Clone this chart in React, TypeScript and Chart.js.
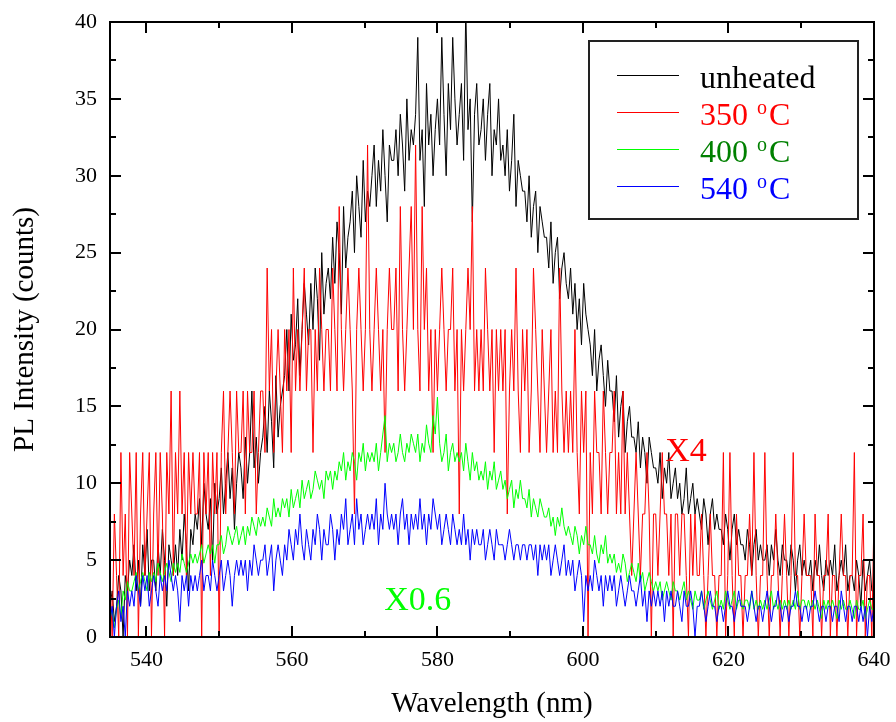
import React, { useEffect, useRef } from 'react';
import { Chart, registerables } from 'chart.js';

Chart.register(...registerables);

const FONT = "'Liberation Serif', 'Times New Roman', Times, serif";

// Sampling grid of the spectra (nm)
const WL_START = 535;
const WL_STEP = 0.3;

const xTicks = [540, 560, 580, 600, 620, 640];
const xMinorTicks = [550, 570, 590, 610, 630];
const yTicks = [0, 5, 10, 15, 20, 25, 30, 35, 40];
const yMinorTicks = [2.5, 7.5, 12.5, 17.5, 22.5, 27.5, 32.5, 37.5];

const seriesLabels = ['unheated', '350 °C', '400 °C', '540 °C'];
const lineColors = ['#000000', '#ff0000', '#00ff00', '#0000ff'];
const legendTextColors = ['#000000', '#ff0000', '#008000', '#0000ff'];

// multiplication factors shown on the plot
const scale350 = 4;
const scale400 = 0.6;

// unheated (counts)
const unheated = [
  2, 3, 1, 2, 4, 3, 0, 4, 3, 5,
  4, 6, 3, 5, 2, 6, 4, 7, 3, 5,
  5, 3, 6, 4, 7, 5, 2, 6, 5, 4,
  6, 4, 7, 5, 8, 6, 3, 7, 6, 8,
  7, 9, 6, 10, 8, 7, 9, 5, 10, 8,
  9, 11, 8, 10, 12, 9, 11, 7, 10, 12,
  11, 9, 13, 10, 12, 16, 11, 13, 10, 12,
  13, 15, 12, 16, 14, 11, 17, 13, 15, 16,
  17, 20, 16, 21, 18, 19, 22, 17, 20, 23,
  21, 19, 23, 20, 24, 22, 18, 25, 21, 23,
  24, 22, 26, 23, 27, 25, 21, 28, 24, 26,
  27, 29, 25, 30, 28, 26, 31, 27, 29, 28,
  30, 32, 28, 31, 29, 33, 30, 27, 32, 31,
  31, 33, 30, 34, 32, 29, 35, 31, 33, 32,
  34, 39, 31, 33, 28, 36, 32, 34, 30, 33,
  35, 32, 39, 34, 30, 36, 33, 39, 35, 32,
  34, 36, 31, 41, 33, 35, 27, 34, 36, 32,
  33, 35, 31, 34, 36, 30, 33, 32, 35, 31,
  32, 30, 33, 29, 31, 34, 28, 31, 30, 29,
  29, 27, 30, 26, 28, 29, 25, 28, 27, 26,
  26, 24, 27, 23, 25, 26, 22, 24, 25, 23,
  22, 24, 21, 23, 20, 22, 19, 23, 21, 20,
  19, 17, 20, 16, 18, 19, 17, 15, 18, 16,
  16, 14, 17, 13, 15, 16, 12, 14, 15, 13,
  13, 12, 14, 11, 13, 12, 10, 13, 12, 11,
  11, 10, 12, 9, 11, 10, 12, 9, 10, 11,
  9, 10, 8, 9, 11, 8, 9, 10, 8, 9,
  8, 7, 9, 8, 6, 8, 9, 7, 8, 7,
  7, 6, 8, 7, 5, 7, 8, 6, 7, 6,
  6, 5, 7, 6, 4, 6, 7, 5, 6, 5,
  5, 6, 4, 6, 5, 7, 5, 4, 6, 5,
  5, 4, 6, 5, 3, 5, 6, 4, 5, 4,
  4, 5, 3, 5, 4, 6, 4, 3, 5, 4,
  5, 4, 6, 3, 4, 5, 4, 6, 3, 4,
  4, 3, 5, 4, 2, 5, 3, 4, 5, 3,
  3,
];

// 350 °C raw counts (plotted x4)
const heated350Raw = [
  1, 0, 2, 1, 0, 3, 1, 2, 0, 3,
  2, 1, 3, 0, 2, 3, 1, 2, 3, 0,
  2, 3, 1, 3, 2, 0, 3, 2, 4, 1,
  3, 2, 4, 2, 3, 1, 3, 2, 3, 2,
  2, 3, 0, 3, 2, 3, 1, 3, 2, 3,
  0, 3, 4, 2, 3, 4, 3, 2, 4, 3,
  3, 4, 2, 4, 3, 3, 4, 2, 3, 4,
  4, 3, 6, 4, 5, 3, 4, 5, 4, 3,
  5, 4, 5, 3, 6, 4, 5, 4, 5, 6,
  4, 5, 5, 3, 5, 4, 6, 5, 4, 5,
  5, 4, 6, 5, 4, 7, 5, 4, 5, 6,
  5, 4, 2, 5, 6, 5, 4, 5, 8, 5,
  4, 5, 6, 5, 4, 5, 3, 5, 6, 5,
  5, 6, 4, 7, 5, 4, 5, 6, 7, 5,
  8, 5, 4, 7, 5, 6, 4, 5, 3, 5,
  4, 5, 6, 5, 4, 5, 5, 6, 4, 5,
  2, 5, 4, 5, 6, 5, 7, 4, 5, 4,
  5, 4, 6, 5, 4, 5, 3, 5, 4, 5,
  4, 5, 2, 4, 5, 4, 6, 4, 3, 5,
  4, 5, 3, 4, 6, 5, 4, 3, 5, 4,
  3, 4, 5, 3, 4, 3, 6, 4, 3, 4,
  3, 4, 3, 5, 3, 2, 4, 3, 4, 0,
  3, 2, 4, 3, 3, 2, 4, 3, 2, 3,
  3, 4, 2, 3, 2, 4, 2, 3, 2, 1,
  2, 3, 2, 1, 2, 2, 3, 2, 0, 2,
  2, 1, 2, 3, 2, 2, 1, 2, 0, 2,
  2, 1, 2, 2, 1, 0, 2, 1, 2, 1,
  1, 2, 1, 0, 1, 2, 1, 1, 0, 1,
  1, 3, 0, 1, 3, 1, 0, 2, 1, 1,
  0, 1, 1, 2, 1, 3, 1, 0, 1, 1,
  3, 1, 0, 1, 1, 2, 1, 0, 1, 2,
  1, 0, 1, 3, 1, 1, 0, 1, 2, 1,
  1, 1, 0, 2, 1, 1, 0, 1, 1, 2,
  0, 1, 1, 0, 1, 2, 1, 1, 0, 1,
  1, 3, 0, 1, 1, 2, 0, 1, 1, 0,
  2,
];

// 400 °C raw counts (plotted x0.6)
const heated400Raw = [
  2, 3, 1, 3, 4, 2, 5, 4, 6, 5,
  5, 6, 7, 5, 6, 7, 6, 5, 7, 6,
  7, 6, 8, 7, 6, 7, 8, 7, 6, 8,
  7, 8, 7, 9, 8, 7, 8, 9, 8, 9,
  8, 9, 10, 8, 9, 10, 9, 10, 8, 10,
  10, 11, 9, 10, 12, 11, 10, 11, 12, 10,
  11, 12, 10, 12, 11, 13, 12, 11, 13, 12,
  13, 12, 14, 13, 12, 15, 13, 14, 13, 15,
  14, 15, 13, 16, 14, 15, 16, 14, 17, 15,
  16, 17, 15, 16, 18, 17, 16, 17, 15, 18,
  17, 18, 16, 18, 17, 19, 18, 20, 17, 19,
  18, 20, 19, 17, 20, 19, 21, 18, 20, 19,
  20, 19, 21, 18, 20, 22, 24, 19, 21, 20,
  21, 19, 20, 22, 20, 19, 21, 20, 22, 21,
  20, 22, 19, 21, 20, 23, 21, 20, 24, 22,
  26, 21, 19, 20, 22, 18, 20, 21, 19, 20,
  19, 20, 18, 21, 19, 17, 20, 18, 19, 17,
  18, 17, 19, 16, 18, 17, 19, 16, 17, 18,
  16, 17, 15, 16, 17, 14, 16, 15, 17, 15,
  15, 14, 16, 13, 15, 14, 13, 15, 14, 13,
  13, 14, 12, 13, 11, 13, 12, 14, 12, 11,
  12, 11, 10, 12, 11, 9, 11, 10, 12, 10,
  10, 9, 11, 9, 8, 10, 9, 11, 8, 9,
  8, 9, 7, 8, 7, 9, 8, 6, 7, 8,
  7, 6, 8, 6, 7, 5, 6, 7, 6, 5,
  6, 5, 6, 4, 5, 6, 5, 4, 6, 5,
  5, 4, 5, 6, 4, 5, 4, 3, 5, 4,
  4, 5, 3, 4, 5, 4, 3, 4, 5, 3,
  4, 3, 5, 4, 3, 4, 5, 3, 4, 4,
  3, 4, 4, 3, 5, 3, 4, 3, 4, 3,
  4, 3, 4, 5, 3, 4, 3, 4, 3, 4,
  3, 4, 3, 4, 3, 5, 3, 4, 4, 3,
  4, 3, 4, 3, 4, 3, 2, 4, 3, 4,
  3, 4, 3, 2, 4, 3, 4, 3, 3, 4,
  3, 2, 4, 3, 3, 4, 2, 3, 4, 3,
  3,
];

// 540 °C (counts)
const heated540 = [
  1, 2, 0, 2, 3, 1, 2, 0, 3, 2,
  3, 2, 4, 3, 2, 4, 3, 4, 2, 3,
  4, 3, 2, 4, 3, 4, 3, 5, 4, 3,
  4, 3, 1, 4, 3, 4, 2, 4, 3, 4,
  3, 4, 5, 3, 4, 4, 3, 5, 4, 3,
  4, 5, 3, 4, 5, 4, 2, 4, 5, 4,
  5, 4, 5, 3, 5, 4, 6, 5, 4, 5,
  5, 6, 4, 5, 6, 3, 5, 6, 5, 4,
  6, 5, 7, 6, 5, 7, 6, 8, 6, 5,
  7, 6, 5, 7, 6, 8, 7, 5, 7, 6,
  6, 8, 7, 5, 7, 6, 8, 7, 9, 6,
  7, 8, 6, 9, 7, 8, 6, 7, 8, 7,
  8, 7, 9, 6, 8, 7, 10, 8, 7, 8,
  7, 8, 6, 8, 9, 7, 8, 6, 8, 7,
  8, 7, 9, 7, 8, 6, 8, 7, 9, 8,
  7, 8, 6, 7, 8, 7, 6, 8, 7, 6,
  7, 6, 8, 6, 7, 5, 7, 6, 7, 6,
  6, 7, 5, 6, 7, 6, 5, 7, 6, 6,
  6, 5, 6, 7, 6, 5, 6, 6, 5, 6,
  6, 5, 6, 6, 5, 6, 4, 6, 5, 6,
  5, 6, 4, 5, 6, 5, 4, 5, 6, 4,
  5, 4, 5, 3, 4, 5, 4, 1, 4, 3,
  4, 3, 5, 4, 3, 4, 2, 4, 3, 4,
  3, 4, 2, 3, 4, 3, 2, 3, 4, 3,
  3, 2, 3, 4, 2, 3, 1, 3, 2, 3,
  2, 3, 2, 3, 1, 3, 2, 3, 2, 2,
  3, 2, 1, 3, 2, 2, 3, 2, 0, 2,
  2, 3, 2, 1, 2, 3, 2, 2, 1, 2,
  2, 1, 2, 3, 2, 2, 1, 2, 3, 2,
  2, 2, 1, 2, 3, 2, 1, 2, 2, 1,
  2, 3, 2, 1, 2, 2, 3, 2, 1, 2,
  2, 1, 2, 2, 3, 2, 2, 1, 2, 2,
  1, 2, 2, 3, 2, 1, 2, 2, 1, 2,
  2, 1, 2, 2, 1, 3, 2, 1, 2, 2,
  1, 2, 2, 1, 2, 1, 2, 0, 2, 1,
  2,
];

// In-plot labels (anchored in data coordinates: wavelength, intensity)
const noteTexts = ['X4', 'X0.6'];
const noteX = [611.3, 572.7];
const noteY = [11.45, 1.76];
const noteColors = ['#ff0000', '#00ff00'];

const toPoints = (vals: number[], k: number) =>
  vals.map((v, i) => ({ x: +(WL_START + i * WL_STEP).toFixed(2), y: v * k }));

const decorPlugin = {
  id: 'decor',
  afterDatasetsDraw(chart: any) {
    const { ctx, chartArea: a, scales } = chart;
    const xs = scales.x;
    const ys = scales.y;
    ctx.save();

    // frame
    ctx.strokeStyle = '#000';
    ctx.lineWidth = 2;
    ctx.strokeRect(a.left, a.top, a.right - a.left, a.bottom - a.top);

    const drawX = (v: number, len: number) => {
      const p = Math.round(xs.getPixelForValue(v));
      ctx.beginPath();
      ctx.moveTo(p, a.bottom);
      ctx.lineTo(p, a.bottom - len);
      ctx.moveTo(p, a.top);
      ctx.lineTo(p, a.top + len);
      ctx.stroke();
    };
    const drawY = (v: number, len: number) => {
      const p = Math.round(ys.getPixelForValue(v));
      ctx.beginPath();
      ctx.moveTo(a.left, p);
      ctx.lineTo(a.left + len, p);
      ctx.moveTo(a.right, p);
      ctx.lineTo(a.right - len, p);
      ctx.stroke();
    };
    xTicks.forEach((v) => drawX(v, 11));
    xMinorTicks.forEach((v) => drawX(v, 6));
    yTicks.forEach((v) => drawY(v, 11));
    yMinorTicks.forEach((v) => drawY(v, 6));

    // in-plot notes
    noteTexts.forEach((t, i) => {
      ctx.font = `34px ${FONT}`;
      ctx.fillStyle = noteColors[i];
      ctx.textAlign = 'left';
      ctx.textBaseline = 'alphabetic';
      ctx.fillText(t, xs.getPixelForValue(noteX[i]), ys.getPixelForValue(noteY[i]));
    });

    // legend
    const bx = a.right - 285;
    const by = a.top + 19;
    const bw = 269;
    const bh = 178;
    ctx.fillStyle = '#ffffff';
    ctx.fillRect(bx, by, bw, bh);
    ctx.strokeStyle = '#222';
    ctx.lineWidth = 2;
    ctx.strokeRect(bx, by, bw, bh);

    chart.data.datasets.forEach((ds: any, i: number) => {
      const ly = by + 34 + i * 37;
      ctx.strokeStyle = ds.borderColor;
      ctx.lineWidth = 1.2;
      ctx.beginPath();
      ctx.moveTo(bx + 28, ly + 0.5);
      ctx.lineTo(bx + 90, ly + 0.5);
      ctx.stroke();

      const label: string = ds.label;
      const parts = label.split('°');
      let tx = bx + 111;
      const base = ly + 13;
      ctx.fillStyle = legendTextColors[i];
      ctx.textAlign = 'left';
      ctx.textBaseline = 'alphabetic';
      ctx.font = `32px ${FONT}`;
      ctx.fillText(parts[0], tx, base);
      tx += ctx.measureText(parts[0]).width;
      if (parts.length > 1) {
        ctx.font = `20px ${FONT}`;
        ctx.fillText('o', tx + 1, base - 11);
        tx += ctx.measureText('o').width + 3;
        ctx.font = `32px ${FONT}`;
        ctx.fillText(parts[1], tx, base);
      }
    });

    ctx.restore();
  },
};

export default function App() {
  const ref = useRef<HTMLCanvasElement | null>(null);

  useEffect(() => {
    if (!ref.current) return;
    const seriesValues = [
      toPoints(unheated, 1),
      toPoints(heated350Raw, scale350),
      toPoints(heated400Raw, scale400),
      toPoints(heated540, 1),
    ];
    const chart = new Chart(ref.current, {
      type: 'line',
      data: {
        datasets: seriesValues.map((pts, i) => ({
          label: seriesLabels[i],
          data: pts,
          borderColor: lineColors[i],
          backgroundColor: lineColors[i],
          borderWidth: 1,
          pointRadius: 0,
          tension: 0,
          fill: false,
          order: 4 - i,
        })),
      },
      options: {
        responsive: false,
        animation: false,
        devicePixelRatio: 1,
        layout: { padding: { top: 22, right: 22, left: 0, bottom: 0 } },
        plugins: {
          legend: { display: false },
          tooltip: { enabled: false },
        },
        scales: {
          x: {
            type: 'linear',
            min: 535,
            max: 640,
            afterBuildTicks: (s: any) => {
              s.ticks = xTicks.map((v) => ({ value: v }));
            },
            afterFit: (s: any) => {
              s.height = 85;
              s.paddingRight = 0;
              s.paddingLeft = 0;
            },
            grid: { display: false, drawTicks: false },
            border: { display: false },
            ticks: {
              font: { family: FONT, size: 22 },
              color: '#000',
              padding: 10,
              maxRotation: 0,
              autoSkip: false,
            },
            title: {
              display: true,
              text: 'Wavelength (nm)',
              color: '#000',
              font: { family: FONT, size: 29 },
              padding: { top: 0, bottom: 0 },
            },
          },
          y: {
            type: 'linear',
            min: 0,
            max: 40,
            afterBuildTicks: (s: any) => {
              s.ticks = yTicks.map((v) => ({ value: v }));
            },
            afterFit: (s: any) => {
              s.width = 110;
              s.paddingTop = 0;
              s.paddingBottom = 0;
            },
            grid: { display: false, drawTicks: false },
            border: { display: false },
            ticks: {
              font: { family: FONT, size: 22 },
              color: '#000',
              padding: 13,
              autoSkip: false,
            },
            title: {
              display: true,
              text: 'PL Intensity (counts)',
              color: '#000',
              font: { family: FONT, size: 29 },
              padding: { top: 8, bottom: 0 },
            },
          },
        },
      },
      plugins: [decorPlugin],
    } as any);
    return () => chart.destroy();
  }, []);

  return (
    <div style={{ position: 'absolute', left: 0, top: 0, width: 896, height: 722, background: '#fff' }}>
      <canvas ref={ref} width={896} height={722} style={{ display: 'block', width: 896, height: 722 }} />
    </div>
  );
}
